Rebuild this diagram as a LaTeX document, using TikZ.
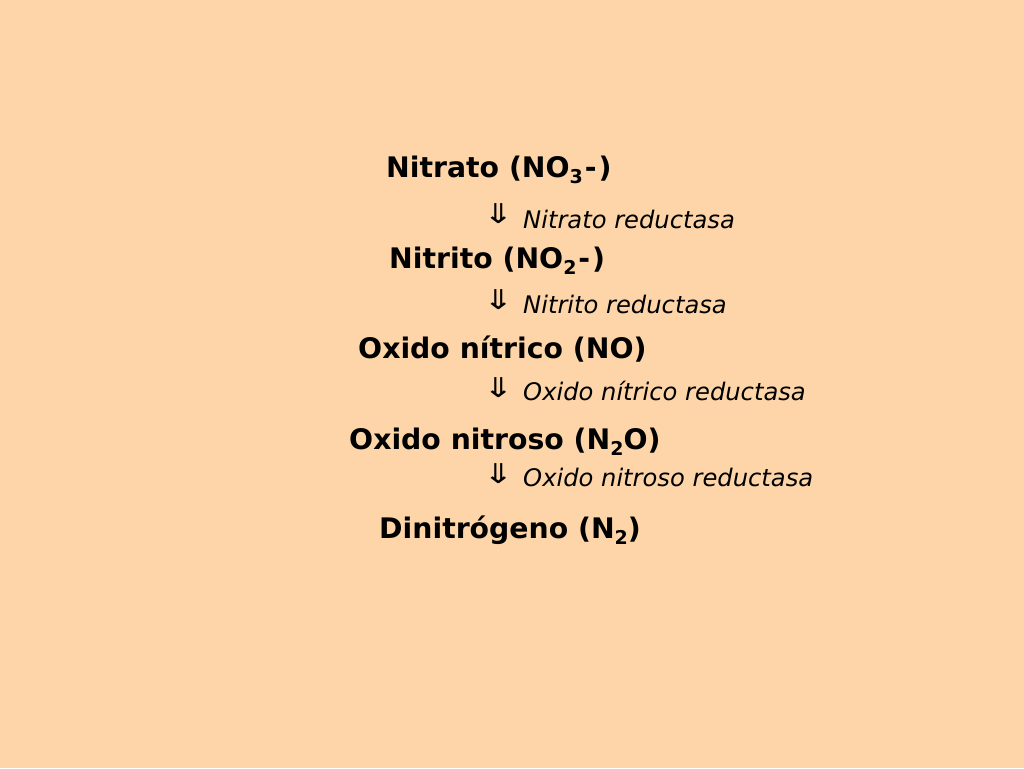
\documentclass[tikz,border=0pt]{standalone}
\usepackage{fontspec}
\setmainfont{DejaVu Sans}
\newcommand{\chsub}[1]{\raisebox{-0.22em}{\fontsize{19}{19}\selectfont #1}}
\newcommand{\dnarrow}{\scalebox{1.4}[1.05]{⇓}}
\definecolor{peach}{RGB}{253,213,168}
\begin{document}
\begin{tikzpicture}[x=1pt,y=-1pt,
  species/.style={inner sep=0pt,anchor=base west,font=\fontsize{28.3}{34}\selectfont\bfseries},
  enzyme/.style={inner sep=0pt,anchor=base west,font=\fontsize{24.2}{28}\selectfont\itshape},
  arrowglyph/.style={inner sep=0pt,anchor=base west,font=\fontsize{26}{30}\selectfont}]
\fill[peach] (0,0) rectangle (1024,768);
\useasboundingbox (0,0) rectangle (1024,768);
\node[species] (s1) at (386,177) {Nitrato (NO\chsub{3}\kern2pt-\kern2pt)};
\node[arrowglyph] (a1) at (483,223) {\dnarrow};
\node[enzyme] (e1) at (523,228) {Nitrato reductasa};
\node[species] (s2) at (389,268) {Nitrito (NO\chsub{2}\kern2pt-\kern2pt)};
\node[arrowglyph] (a2) at (483,309) {\dnarrow};
\node[enzyme] (e2) at (523,313) {Nitrito reductasa};
\node[species] (s3) at (358,358) {Oxido nítrico (NO)};
\node[arrowglyph] (a3) at (483,397) {\dnarrow};
\node[enzyme] (e3) at (523,400) {Oxido nítrico reductasa};
\node[species] (s4) at (349,449) {Oxido nitroso (N\chsub{2}O)};
\node[arrowglyph] (a4) at (483,483) {\dnarrow};
\node[enzyme] (e4) at (523,486) {Oxido nitroso reductasa};
\node[species] (s5) at (379,538) {Dinitrógeno (N\chsub{2})};
\end{tikzpicture}
\end{document}
